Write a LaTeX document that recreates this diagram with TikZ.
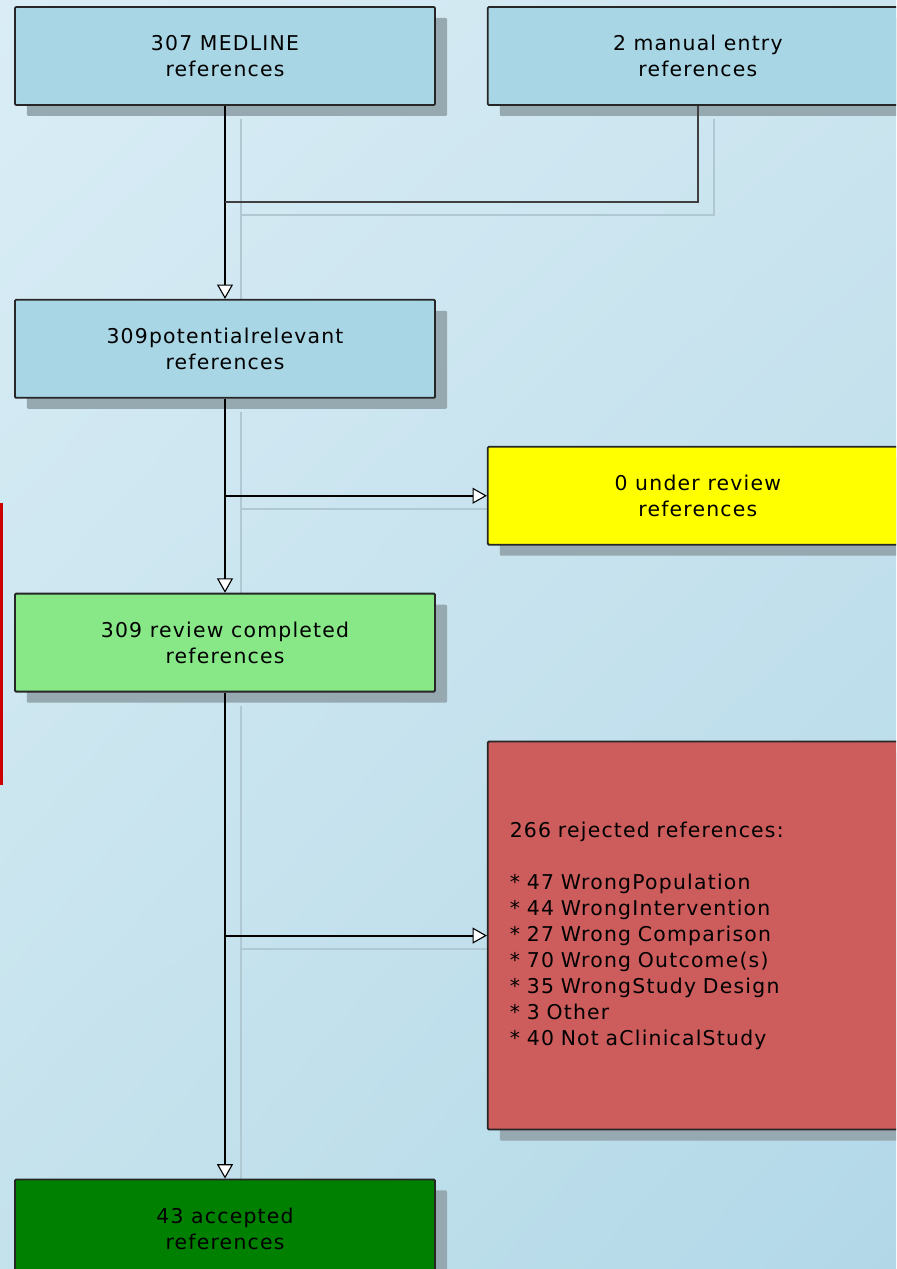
\documentclass[tikz,border=0pt]{standalone}
\usepackage{fontspec}
\newfontfamily\flowfont[LetterSpace=6]{DejaVu Sans}
\usetikzlibrary{positioning,calc,shadows,shadings,arrows.meta,backgrounds}
\definecolor{bgtopleft}{RGB}{218,237,246}
\definecolor{bgtopright}{RGB}{204,229,239}
\definecolor{bgbotleft}{RGB}{196,226,236}
\definecolor{bgbotright}{RGB}{178,216,232}
\definecolor{refblue}{RGB}{168,214,229}
\definecolor{pendingyellow}{RGB}{255,255,0}
\definecolor{reviewgreen}{RGB}{136,232,136}
\definecolor{rejectred}{RGB}{205,92,92}
\definecolor{acceptgreen}{RGB}{0,128,0}
\definecolor{boxshadow}{RGB}{150,168,176}
\definecolor{wireshadow}{RGB}{176,200,210}
\definecolor{alertred}{RGB}{204,0,0}
\tikzset{flowbox/.style={draw=black!85, line width=1.3pt, rounded corners=0.8pt, minimum width=10.5cm, minimum height=2.45cm, align=center, font=\flowfont\fontsize{14.5}{18.5}\selectfont, drop shadow={shadow xshift=0.3cm, shadow yshift=-0.275cm, fill=boxshadow, opacity=1}}}
\tikzset{flowarrow/.style={-{Triangle[width=0.4cm, length=0.36cm, fill=white, line width=0.8pt]}, line width=1.5pt}}
\tikzset{wireshade/.style={draw=wireshadow, line width=1.5pt, transform canvas={xshift=0.4cm, yshift=-0.325cm}}}

\begin{document}
\begin{tikzpicture}
\clip (-5.625,1.4) rectangle (16.775,-30.325);
\useasboundingbox (-5.625,1.4) rectangle (16.775,-30.325);
\node[flowbox, fill=refblue] (medline) at (0,0) {307 MEDLINE\\references};
\node[flowbox, fill=refblue, right=1.275cm of medline] (manual) {2 manual entry\\references};
\node[flowbox, fill=refblue, below=4.825cm of medline] (potential) {309potentialrelevant\\references};
\node[flowbox, fill=reviewgreen, below=4.85cm of potential] (completed) {309 review completed\\references};
\node[flowbox, fill=acceptgreen, below=12.15cm of completed] (accepted) {43 accepted\\references};
\coordinate (join) at ($(medline.south)!0.5!(potential.north)$);
\coordinate (split1) at ($(potential.south)!0.5!(completed.north)$);
\coordinate (split2) at ($(completed.south)!0.5!(accepted.north)$);
\node[flowbox, fill=pendingyellow] (pending) at (manual |- split1) {0 under review\\references};
\node[flowbox, fill=rejectred, minimum height=9.7cm, align=left, text width=9.4cm, inner xsep=0.55cm] (rejected) at (manual |- split2) {266 rejected references:\\[18.5pt]{}* 47 WrongPopulation\\{}* 44 WrongIntervention\\{}* 27 Wrong Comparison\\{}* 70 Wrong Outcome(s)\\{}* 35 WrongStudy Design\\{}* 3 Other\\{}* 40 Not aClinicalStudy};
\draw[flowarrow] (medline) -- (potential);
\draw[line width=1.5pt, draw=black!75] (manual.south) |- (join);
\draw[flowarrow] (potential) -- (completed);
\draw[flowarrow] (split1) -- (pending.west);
\draw[flowarrow] (completed) -- (accepted);
\draw[flowarrow] (split2) -- (rejected.west);
\fill[alertred] (-5.625,-11.175) rectangle (-5.55,-18.225);
\begin{scope}[on background layer]
\shade[upper left=bgtopleft, upper right=bgtopright, lower left=bgbotleft, lower right=bgbotright] (-5.625,1.4) rectangle (16.775,-30.325);
\draw[wireshade] (medline.south) -- (potential.north);
\draw[wireshade] (manual.south) |- (join);
\draw[wireshade] (potential.south) -- (completed.north);
\draw[wireshade] (split1) -- (pending.west);
\draw[wireshade] (completed.south) -- (accepted.north);
\draw[wireshade] (split2) -- (rejected.west);
\end{scope}
\end{tikzpicture}
\end{document}
